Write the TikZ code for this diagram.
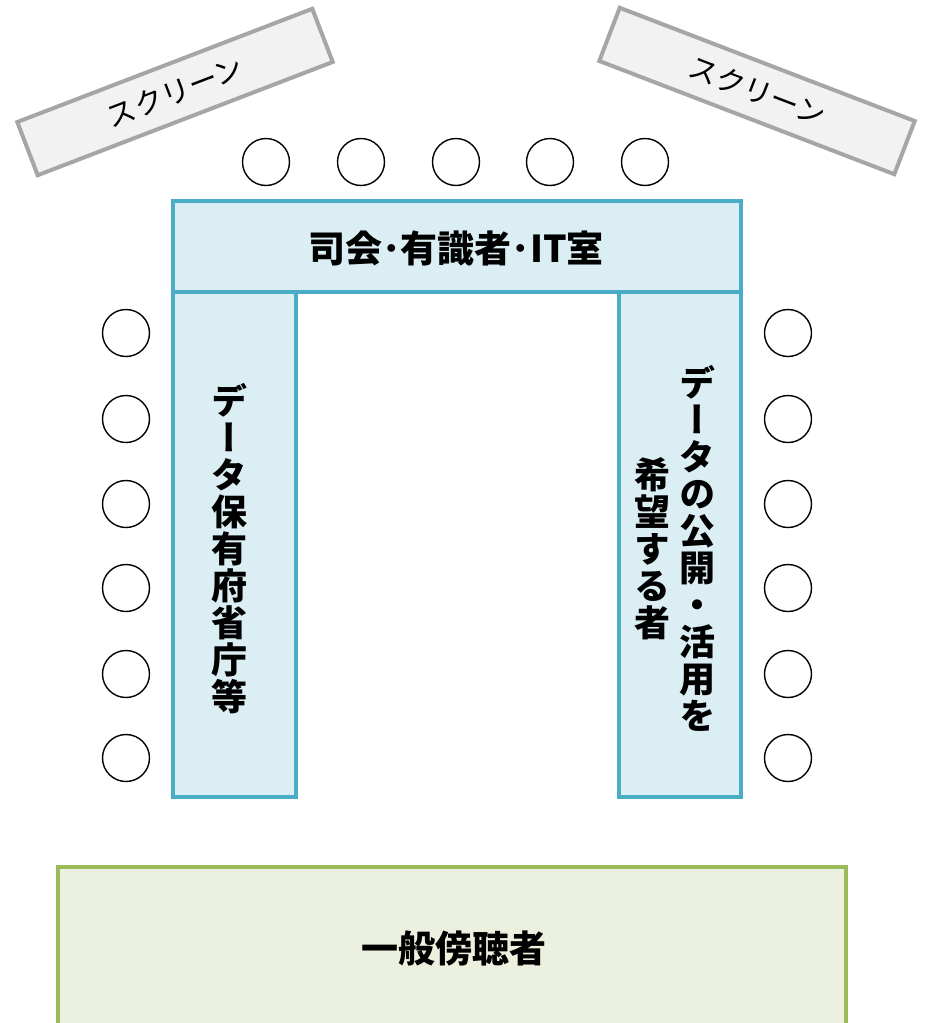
\documentclass[tikz,border=0pt]{standalone}
\usepackage{fontspec}
\setmainfont{Noto Sans CJK JP}
\newfontfamily\jp{Noto Sans CJK JP}
\newfontfamily\jpv[RawFeature=+vert]{Noto Sans CJK JP}
\definecolor{tealS}{HTML}{4BACC6}
\definecolor{tealF}{HTML}{DAEEF3}
\definecolor{grnS}{HTML}{9BBB59}
\definecolor{grnF}{HTML}{EBF1DE}
\definecolor{scrS}{HTML}{A6A6A6}
\definecolor{scrF}{HTML}{F2F2F2}
\begin{document}
\begin{tikzpicture}[x=1pt,y=-1pt,
  screen/.style={draw=scrS,fill=scrF,line width=4pt,minimum width=316pt,minimum height=57pt,inner sep=0pt,font=\jp\fontsize{29}{30}\selectfont},
  seat/.style={draw=black,line width=1.4pt,circle,minimum size=47pt,inner sep=0pt},
  tbl/.style={draw=tealS,fill=tealF,line width=4pt},
  aud/.style={draw=grnS,fill=grnF,line width=4pt},
  lbl/.style={font=\jp\bfseries\fontsize{37}{40}\selectfont},
  vlbl/.style={font=\jpv\bfseries\fontsize{36}{37}\selectfont,align=center,inner sep=0pt}]
\useasboundingbox (0,0) rectangle (924,1023);
% screens
\node[screen,rotate=21] (s1) at (175,92) {スクリーン};
\node[screen,rotate=-21] (s2) at (757,91) {スクリーン};
% top seats
\foreach \i/\x in {1/266,2/361,3/456,4/550,5/645}
  \node[seat] (t\i) at (\x,162) {};
% side seats
\foreach \i/\y in {1/333,2/419,3/504,4/588,5/674,6/758}{
  \node[seat] (l\i) at (126,\y) {};
  \node[seat] (r\i) at (788,\y) {};
}
% tables
\draw[tbl] (173,201) rectangle (741,292);
\node[lbl] (top) at (456,248) {司会･有識者･IT室};
\draw[tbl] (173,292) rectangle (296,797);
\draw[tbl] (619,292) rectangle (741,797);
\node[vlbl] (lt) at (229,549) {デ\\ー\\タ\\保\\有\\府\\省\\庁\\等};
\node[vlbl] (rt1) at (697,548) {デ\\ー\\タ\\の\\公\\開\\・\\活\\用\\を};
\node[vlbl] (rt2) at (652,549) {希\\望\\す\\る\\者};
% audience
\draw[aud] (58,867) rectangle (846,1035);
\node[lbl] (au) at (454,948) {一般傍聴者};
\end{tikzpicture}
\end{document}
